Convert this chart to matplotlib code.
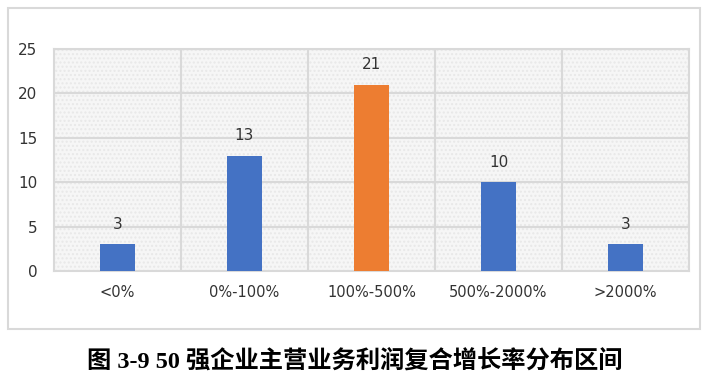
import matplotlib.pyplot as plt
from matplotlib.patches import Rectangle

# 数据
categories = ['<0%', '0%-100%', '100%-500%', '500%-2000%', '>2000%']
counts = [3, 13, 21, 10, 3]
colors = ['#4472C4', '#4472C4', '#ED7D31', '#4472C4', '#4472C4']
title = '图 3-9 50 强企业主营业务利润复合增长率分布区间'

fig = plt.figure(figsize=(7.09, 3.82), dpi=100)

# 外框
fig.patches.append(Rectangle((8 / 709, 1 - 329 / 382), 692 / 709, 321 / 382,
                             transform=fig.transFigure, fill=False,
                             edgecolor='#d9d9d9', linewidth=1.5))

ax = fig.add_axes([54 / 709, 1 - 271 / 382, 635 / 709, 222 / 382])
ax.set_facecolor('#f6f6f6')
ax.add_patch(Rectangle((0, 0), 1, 1, transform=ax.transAxes, fill=False,
                       hatch='....', edgecolor='#e8e8e8', linewidth=0, zorder=0))

x = range(len(categories))
bars = ax.bar(x, counts, width=0.27, color=colors, zorder=3)
for xi, v in zip(x, counts):
    ax.text(xi, v + 1.4, str(v), ha='center', va='bottom', fontsize=11,
            color='#333333', family='DejaVu Sans')

ax.set_xlim(-0.5, len(categories) - 0.5)
ax.set_ylim(0, 25)
ax.set_yticks([0, 5, 10, 15, 20, 25])
ax.set_xticks(x)
ax.set_xticklabels(categories)

# 网格线:横线 + 类别分隔竖线
for yv in [5, 10, 15, 20, 25]:
    ax.axhline(yv, color='#d9d9d9', linewidth=1.5, zorder=1)
for b in [0.5, 1.5, 2.5, 3.5]:
    ax.axvline(b, color='#d9d9d9', linewidth=1.5, zorder=1)
for s in ax.spines.values():
    s.set_color('#d9d9d9')
    s.set_linewidth(1.5)

ax.tick_params(length=0, labelsize=10.5, labelcolor='#333333')
ax.tick_params(axis='y', pad=12, labelsize=11)
ax.tick_params(axis='x', pad=10)

fig.text(355 / 709, 1 - 361 / 382, title, ha='center', va='center',
         fontsize=17.5, fontweight='bold',
         family=['Liberation Serif', 'Noto Sans CJK SC'])

fig.savefig('out.png', dpi=100)
